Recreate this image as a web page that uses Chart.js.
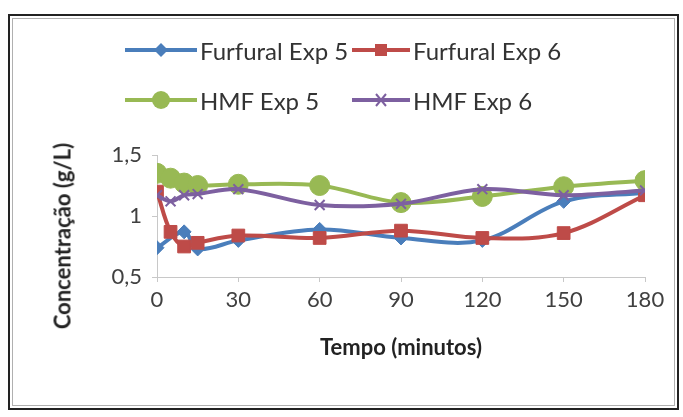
<!DOCTYPE html>
<html>
<head>
<meta charset="utf-8">
<script src="https://cdn.jsdelivr.net/npm/chart.js@4"></script>
<style>
  html, body { margin: 0; padding: 0; background: #fff; }
  #wrap { position: relative; width: 683px; height: 417px; overflow: hidden; }
  #frame { position: absolute; left: 8px; top: 14px; width: 671px; height: 396px;
           border: 2px solid #222; box-shadow: inset 0 0 0 2px #fff, inset 0 0 0 3px #b0b0b0; box-sizing: border-box; }
  canvas { position: absolute; left: 0; top: 0; }
  .leg { position: absolute; font-family: Lato, "Open Sans", sans-serif; font-size: 24px; color: #333; white-space: nowrap; display: flex; align-items: center; height: 28px; }
  .leg svg { margin-right: 3px; }
  #ytitle { position: absolute; left: 62px; top: 236px; transform: translate(-50%, -50%) rotate(-90deg);
            font-family: Lato, "Open Sans", sans-serif; font-size: 22px; font-weight: bold; color: #222; white-space: nowrap; }
</style>
</head>
<body>
<div id="wrap">
  <div id="frame"></div>
  <canvas id="c" width="683" height="417"></canvas>
  <div id="legend"></div>
  <div id="ytitle">Concentração (g/L)</div>
</div>
<script>
// ---- data ----
const times = [0, 5, 10, 15, 30, 60, 90, 120, 150, 180];
const furfuralExp5 = [0.74, null, 0.87, 0.73, 0.80, 0.89, 0.82, 0.80, 1.12, 1.19];
const furfuralExp6 = [1.20, 0.87, 0.75, 0.78, 0.84, 0.82, 0.88, 0.82, 0.86, 1.17];
const hmfExp5      = [1.35, 1.31, 1.27, 1.25, 1.26, 1.25, 1.11, 1.16, 1.24, 1.29];
const hmfExp6      = [1.17, 1.12, 1.17, 1.18, 1.22, 1.09, 1.10, 1.22, 1.17, 1.21];
const seriesNames  = ['Furfural Exp 5', 'Furfural Exp 6', 'HMF Exp 5', 'HMF Exp 6'];
const xTicks = [0, 30, 60, 90, 120, 150, 180];
const yTicks = [0.5, 1, 1.5];

const colors = ['#4A7EBB', '#BE4B48', '#98B954', '#7D60A0'];
const styles = ['rectRot', 'rect', 'circle', 'crossRot'];
const radii  = [7, 9, 10, 7];
const values = [furfuralExp5, furfuralExp6, hmfExp5, hmfExp6];

const FONT = 'Lato, "Open Sans", sans-serif';

const datasets = values.map((vals, i) => ({
  label: seriesNames[i],
  data: times.map((t, k) => ({ x: t, y: vals[k] })),
  borderColor: colors[i],
  backgroundColor: colors[i],
  pointBackgroundColor: colors[i],
  pointBorderColor: colors[i],
  pointStyle: styles[i],
  pointRadius: radii[i],
  pointBorderWidth: i === 3 ? 2 : 1,
  borderWidth: 4,
  tension: 0.35,
  spanGaps: true,
  order: 4 - i
}));

new Chart(document.getElementById('c'), {
  type: 'line',
  data: { datasets },
  options: {
    responsive: false,
    animation: false,
    layout: { padding: { left: 0, right: 38, top: 155, bottom: 0 } },
    plugins: { legend: { display: false }, tooltip: { enabled: false } },
    scales: {
      x: {
        type: 'linear',
        min: 0, max: 180,
        afterBuildTicks: s => { s.ticks = xTicks.map(v => ({ value: v })); },
        afterFit: s => { s.height = 417 - 277; },
        border: { display: true, color: '#c8c8c8', width: 1 },
        grid: { display: true, drawOnChartArea: false, drawTicks: true, tickLength: 5, color: '#c8c8c8' },
        ticks: { color: '#404040', font: { family: FONT, size: 22 }, padding: 5, maxRotation: 0, autoSkip: false },
        title: { display: true, text: 'Tempo (minutos)', color: '#222',
                 font: { family: FONT, size: 22, weight: 'bold' }, padding: { top: 0, bottom: 56 } }
      },
      y: {
        min: 0.5, max: 1.5,
        afterBuildTicks: s => { s.ticks = yTicks.map(v => ({ value: v })); },
        afterFit: s => { s.width = 157; },
        border: { display: true, color: '#c8c8c8', width: 1 },
        grid: { display: true, drawOnChartArea: false, drawTicks: true, tickLength: 5, color: '#c8c8c8' },
        ticks: { color: '#404040', font: { family: FONT, size: 22 }, padding: 10,
                 callback: v => String(v).replace('.', ',') },
        title: { display: false }
      }
    }
  }
});

// HTML legend (2 x 2 grid, as in the reference)
const legPos = [[125, 50], [352, 50], [125, 100], [352, 100]];
const leg = document.getElementById('legend');
seriesNames.forEach((name, i) => {
  const c = colors[i];
  let marker = '';
  if (styles[i] === 'rectRot') marker = `<polygon points="36,3 43,10 36,17 29,10" fill="${c}"/>`;
  if (styles[i] === 'rect') marker = `<rect x="23" y="4" width="12" height="12" fill="${c}"/>`;
  if (styles[i] === 'circle') marker = `<circle cx="36" cy="10" r="9" fill="${c}"/>`;
  if (styles[i] === 'crossRot') marker = `<path d="M24,4 L34,16 M34,4 L24,16" stroke="${c}" stroke-width="2"/>`;
  const w = (i % 2 === 0) ? 72 : 58;
  const d = document.createElement('div');
  d.className = 'leg';
  d.style.left = legPos[i][0] + 'px';
  d.style.top = (legPos[i][1] - 14) + 'px';
  d.innerHTML = `<svg width="${w}" height="20"><line x1="0" y1="10" x2="${w}" y2="10" stroke="${c}" stroke-width="4"/>${marker}</svg><span>${name}</span>`;
  leg.appendChild(d);
});
</script>
</body>
</html>
